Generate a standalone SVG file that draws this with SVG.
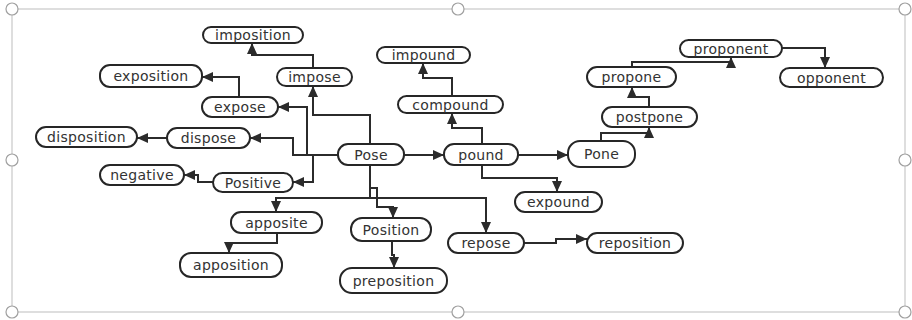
<svg xmlns="http://www.w3.org/2000/svg" width="912" height="320" viewBox="0 0 912 320">
<style>
.frame{fill:none;stroke:#c8c8c8;stroke-width:1.2}
.handle{fill:#fff;stroke:#a0a0a0;stroke-width:1.2}
.node rect{fill:#fff;stroke:#262626;stroke-width:2}
.node text{font-family:"DejaVu Sans",Verdana,sans-serif;font-size:14px;fill:#333;text-anchor:middle;dominant-baseline:central;letter-spacing:0.3px}
.edge{fill:none;stroke:#2b2b2b;stroke-width:2;marker-end:url(#arr)}
</style>
<defs>
<marker id="arr" markerUnits="userSpaceOnUse" markerWidth="12" markerHeight="10" refX="11" refY="5" orient="auto">
<path d="M0,0 L11,5 L0,10 Z" fill="#2b2b2b"/>
</marker>
</defs>
<rect width="912" height="320" fill="#fff"/>
<g id="frame">
<rect class="frame" x="12" y="9" width="893" height="303"/>
<circle class="handle" cx="12" cy="9" r="6"/>
<circle class="handle" cx="458" cy="9" r="6"/>
<circle class="handle" cx="905" cy="9" r="6"/>
<circle class="handle" cx="12" cy="160" r="6"/>
<circle class="handle" cx="905" cy="160" r="6"/>
<circle class="handle" cx="12" cy="312" r="6"/>
<circle class="handle" cx="458" cy="312" r="6"/>
<circle class="handle" cx="905" cy="312" r="6"/>
</g>
<g id="connectors">
<path class="edge" d="M370,144 V115 H313 V86"/>
<path class="edge" d="M313,68 V55 H252 V43"/>
<path class="edge" d="M338,155 H307 V107 H278"/>
<path class="edge" d="M338,155 H293 V138 H250"/>
<path class="edge" d="M313,155 V182 H293"/>
<path class="edge" d="M167,138 H137"/>
<path class="edge" d="M239,97 V77 H202"/>
<path class="edge" d="M213,182 H198 V175 H184"/>
<path class="edge" d="M404,155 H444"/>
<path class="edge" d="M482,144 V128 H452 V113"/>
<path class="edge" d="M452,96 V78 H423 V63"/>
<path class="edge" d="M518,155 H568"/>
<path class="edge" d="M482,165 V178 H557 V192"/>
<path class="edge" d="M601,141 V133 H649 V127"/>
<path class="edge" d="M649,107 V97 H632 V87"/>
<path class="edge" d="M632,67 V62 H731 V57"/>
<path class="edge" d="M782,48 H825 V68"/>
<path class="edge" d="M370,165 V198 H276 V212"/>
<path class="edge" d="M370,198 H486 V233"/>
<path class="edge" d="M370,188 H377 V207 H393 V218"/>
<path class="edge" d="M277,233 V243 H229 V253"/>
<path class="edge" d="M392,241 V255 H394 V268"/>
<path class="edge" d="M524,243 H556 V239 H587"/>
</g>
<g id="n-imposition" class="node"><rect x="203" y="27" width="100" height="16" rx="8"/><text x="253" y="35">imposition</text></g>
<g id="n-exposition" class="node"><rect x="100" y="65" width="102" height="22" rx="10"/><text x="151" y="76">exposition</text></g>
<g id="n-impose" class="node"><rect x="277" y="68" width="75" height="18" rx="9"/><text x="314.5" y="77">impose</text></g>
<g id="n-expose" class="node"><rect x="202" y="97" width="76" height="20" rx="10"/><text x="240" y="107">expose</text></g>
<g id="n-disposition" class="node"><rect x="36" y="127" width="101" height="20" rx="10"/><text x="86.5" y="137">disposition</text></g>
<g id="n-dispose" class="node"><rect x="167" y="128" width="83" height="20" rx="10"/><text x="208.5" y="138">dispose</text></g>
<g id="n-pose" class="node"><rect x="338" y="144" width="66" height="21" rx="10"/><text x="371" y="154.5">Pose</text></g>
<g id="n-impound" class="node"><rect x="377" y="47" width="93" height="16" rx="8"/><text x="423.5" y="55">impound</text></g>
<g id="n-compound" class="node"><rect x="398" y="96" width="105" height="17" rx="8.5"/><text x="450.5" y="104.5">compound</text></g>
<g id="n-pound" class="node"><rect x="444" y="144" width="74" height="21" rx="10"/><text x="481" y="154.5">pound</text></g>
<g id="n-pone" class="node"><rect x="568" y="141" width="67" height="26" rx="12"/><text x="601.5" y="154">Pone</text></g>
<g id="n-postpone" class="node"><rect x="602" y="107" width="95" height="20" rx="10"/><text x="649.5" y="117">postpone</text></g>
<g id="n-propone" class="node"><rect x="587" y="67" width="89" height="20" rx="10"/><text x="631.5" y="77">propone</text></g>
<g id="n-proponent" class="node"><rect x="680" y="40" width="102" height="17" rx="8.5"/><text x="731" y="48.5">proponent</text></g>
<g id="n-opponent" class="node"><rect x="780" y="68" width="103" height="19" rx="9.5"/><text x="831.5" y="77.5">opponent</text></g>
<g id="n-expound" class="node"><rect x="515" y="192" width="87" height="20" rx="10"/><text x="558.5" y="202">expound</text></g>
<g id="n-negative" class="node"><rect x="100" y="165" width="84" height="20" rx="10"/><text x="142" y="175">negative</text></g>
<g id="n-positive" class="node"><rect x="213" y="173" width="80" height="19" rx="9.5"/><text x="253" y="182.5">Positive</text></g>
<g id="n-apposite" class="node"><rect x="231" y="212" width="91" height="21" rx="10"/><text x="276.5" y="222.5">apposite</text></g>
<g id="n-position" class="node"><rect x="351" y="218" width="80" height="23" rx="11"/><text x="391" y="229.5">Position</text></g>
<g id="n-apposition" class="node"><rect x="180" y="253" width="102" height="24" rx="11"/><text x="231" y="265">apposition</text></g>
<g id="n-preposition" class="node"><rect x="340" y="268" width="107" height="25" rx="12"/><text x="393.5" y="280.5">preposition</text></g>
<g id="n-repose" class="node"><rect x="448" y="233" width="76" height="20" rx="10"/><text x="486" y="243">repose</text></g>
<g id="n-reposition" class="node"><rect x="587" y="233" width="96" height="20" rx="10"/><text x="635" y="243">reposition</text></g>
</svg>
